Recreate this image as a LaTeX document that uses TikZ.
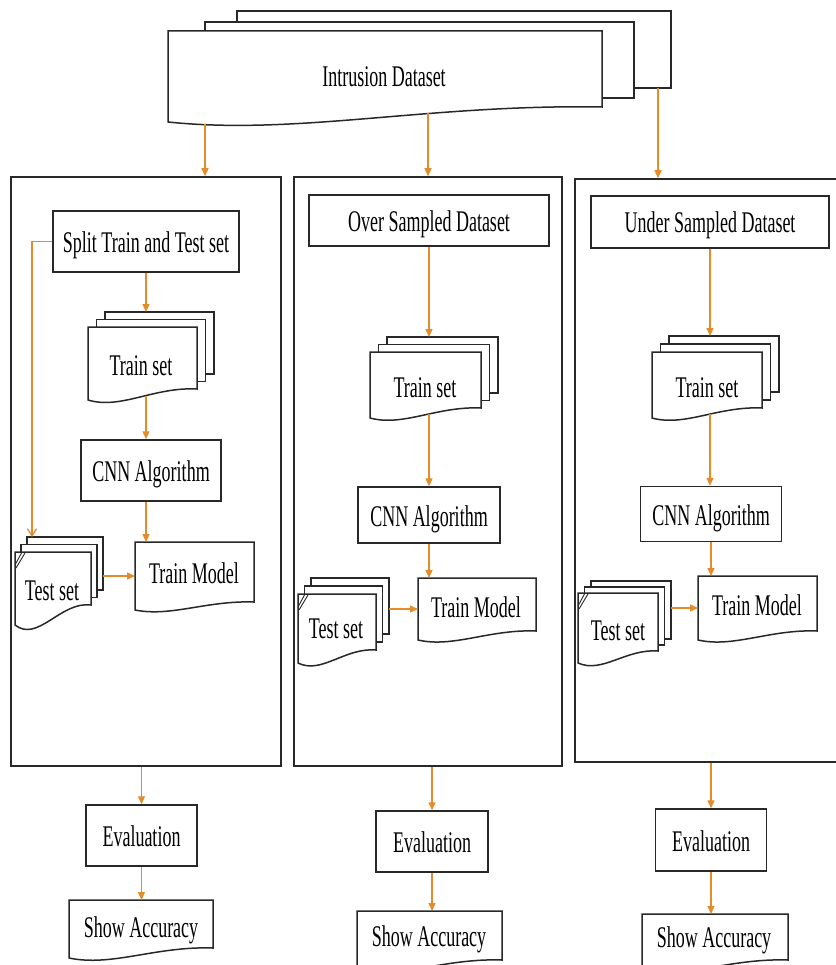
\documentclass[tikz,border=0pt]{standalone}
\usepackage{fontspec}
\setmainfont{Liberation Serif}
\usepackage{graphicx}
\usetikzlibrary{arrows.meta,fit}
\definecolor{arrc}{RGB}{228,140,44}
\definecolor{lc}{RGB}{40,40,40}
\newcommand\sx[1]{\scalebox{0.6}[1]{#1}}
% document shape: x0,y0,x1,yR,yL
\newcommand\docshape[5]{%
  \filldraw[docline] (#1,#2) -- (#3,#2) -- (#3,#4)
    .. controls ({#1+0.6*(#3-#1)},{#4-0.2*(#5-#4)}) and ({#1+0.3*(#3-#1)},{#5+0.9*(#5-#4)}) .. (#1,#5) -- cycle;}
% multi document: x0,y0,x1,yR,yL,dx,dy
\newcommand\multidoc[7]{%
  \filldraw[docline] ({#1+2*#6},{#2-2*#7}) rectangle ({#3+2*#6},{#4-2*#7});
  \filldraw[docline] ({#1+#6},{#2-#7}) rectangle ({#3+#6},{#4-#7});
  \docshape{#1}{#2}{#3}{#4}{#5}}
% corner mark on test set
\newcommand\cornermark[2]{%
  \draw[lc, line width=0.9pt] (#1,{#2+13}) -- ({#1+7},#2) ({#1+1},{#2+16}) -- ({#1+10},{#2+1});}
\begin{document}
\begin{tikzpicture}[x=1pt,y=-1pt,
  docline/.style={draw=lc, line width=1.5pt, fill=white, line join=miter},
  rbox/.style={draw=lc, line width=1.5pt, fill=white, inner sep=0pt,
    text height=22pt, text depth=0pt, font=\fontsize{30}{30}\selectfont},
  contbox/.style={draw=lc, line width=1.5pt, inner sep=0pt},
  doctext/.style={anchor=base, inner sep=0pt, font=\fontsize{30}{30}\selectfont},
  fitb/.style={inner sep=0pt, outer sep=0pt},
  oarr/.style={draw=arrc, line width=1.3pt, -{Triangle[length=8pt,width=7pt]}},
  varr/.style={draw=arrc, line width=1.3pt, -{Straight Barb[length=7pt,width=9pt]}}]
\useasboundingbox (0,0) rectangle (835,965);
\fill[white] (0,0) rectangle (835,965);

% containers
\node[contbox, minimum width=270pt, minimum height=589pt] (contL) at (146,471.5) {};
\node[contbox, minimum width=268pt, minimum height=589pt] (contM) at (428,471.5) {};
\node[contbox, minimum width=275pt, minimum height=583pt] (contR) at (712.5,470.5) {};

% intrusion dataset
\filldraw[docline] (237,11) rectangle (671,88);
\filldraw[docline] (205,22) rectangle (634,98);
\docshape{168}{31}{602}{107}{122}
\node[doctext] (ds) at (384,87) {\sx{Intrusion Dataset}};
\coordinate (dsA) at (205,124);
\coordinate (dsB) at (428,113);
\coordinate (dsC) at (658,88);

% ---------- left panel ----------
\node[rbox, minimum width=186pt, minimum height=61pt] (split) at (146,241.5) {\sx{Split Train and Test set}};
\multidoc{88}{327}{197}{389}{400}{8.5}{7.5}
\node[fitb, fit={(88,312) (214,400)}] (trLb) {};
\node[doctext] (trL) at (141,375) {\sx{Train set}};
\node[rbox, minimum width=140pt, minimum height=61pt] (cnnL) at (151,470.5) {\sx{CNN Algorithm}};
\docshape{135}{542}{254}{602}{610}
\node[fitb, fit={(135,542) (254,610)}] (tmLb) {};
\node[doctext] (tmL) at (194,583) {\sx{Train Model}};
\multidoc{15}{552}{91}{605}{625}{6}{7.5}
\cornermark{15}{552}
\node[fitb, fit={(15,537) (103,625)}] (tsLb) {};
\node[doctext] (tsL) at (52,600) {\sx{Test set}};
\coordinate (tsLin) at (32,537);
\node[rbox, minimum width=111pt, minimum height=61pt] (evalL) at (141.5,835.5) {\sx{Evaluation}};
\docshape{69}{900}{213}{948}{958}
\node[fitb, fit={(69,900) (213,958)}] (saLb) {};
\node[doctext] (saL) at (141,937) {\sx{Show Accuracy}};

% ---------- middle panel ----------
\node[rbox, minimum width=240pt, minimum height=51pt] (over) at (429,220.5) {\sx{Over Sampled Dataset}};
\multidoc{370}{352}{481}{408}{418}{8.5}{7.5}
\node[fitb, fit={(370,337) (498,418)}] (trMb) {};
\node[doctext] (trM) at (425,397) {\sx{Train set}};
\node[rbox, minimum width=142pt, minimum height=56pt] (cnnM) at (429,515) {\sx{CNN Algorithm}};
\docshape{418}{578}{536}{631}{640}
\node[fitb, fit={(418,578) (536,640)}] (tmMb) {};
\node[doctext] (tmM) at (476,617) {\sx{Train Model}};
\multidoc{298}{594}{376}{650}{663}{6.5}{8}
\cornermark{298}{594}
\node[fitb, fit={(298,578) (389,663)}] (tsMb) {};
\node[doctext] (tsM) at (336,638) {\sx{Test set}};
\node[rbox, minimum width=112pt, minimum height=61pt] (evalM) at (432,841.5) {\sx{Evaluation}};
\docshape{357}{911}{502}{960}{970}
\node[fitb, fit={(357,911) (502,970)}] (saMb) {};
\node[doctext] (saM) at (429,946) {\sx{Show Accuracy}};

% ---------- right panel ----------
\node[rbox, minimum width=238pt, minimum height=52pt] (under) at (710,222) {\sx{Under Sampled Dataset}};
\multidoc{652}{352}{762}{408}{418}{8.5}{8}
\node[fitb, fit={(652,336) (779,418)}] (trRb) {};
\node[doctext] (trR) at (707,397) {\sx{Train set}};
\node[rbox, minimum width=141pt, minimum height=55pt] (cnnR) at (711,514) {\sx{CNN Algorithm}};
\docshape{698}{576}{817}{631}{640}
\node[fitb, fit={(698,576) (817,640)}] (tmRb) {};
\node[doctext] (tmR) at (757,615) {\sx{Train Model}};
\multidoc{578}{593}{658}{651}{663}{6.5}{6}
\cornermark{578}{593}
\node[fitb, fit={(578,581) (671,663)}] (tsRb) {};
\node[doctext] (tsR) at (618,640) {\sx{Test set}};
\node[rbox, minimum width=111pt, minimum height=62pt] (evalR) at (711,840) {\sx{Evaluation}};
\docshape{642}{914}{788}{960}{970}
\node[fitb, fit={(642,914) (788,970)}] (saRb) {};
\node[doctext] (saR) at (714,947) {\sx{Show Accuracy}};

% ---------- connectors ----------
\draw[oarr] (dsA) -- (dsA |- contL.north);
\draw[oarr] (dsB) -- (dsB |- contM.north);
\draw[oarr] (dsC) -- (dsC |- contR.north);

\draw[oarr] (split.south) -- (split.south |- trLb.north);
\draw[oarr] ([yshift=4pt]split.south |- trLb.south) -- (split.south |- cnnL.north);
\draw[oarr] (split.south |- cnnL.south) -- (split.south |- tmLb.north);
\draw[oarr] (tsLb.east |- tmLb.west) -- (tmLb.west);
\draw[varr] (split.west) -| (tsLin);
\draw[oarr] (evalL.north |- contL.south) -- (evalL.north);
\draw[oarr] (evalL.south) -- (evalL.south |- saLb.north);

\draw[oarr] (over.south) -- (over.south |- trMb.north);
\draw[oarr] ([yshift=4pt]over.south |- trMb.south) -- (over.south |- cnnM.north);
\draw[oarr] (cnnM.south) -- (cnnM.south |- tmMb.north);
\draw[oarr] (tsMb.east |- tmMb.west) -- (tmMb.west);
\draw[oarr] (evalM.north |- contM.south) -- (evalM.north);
\draw[oarr] (evalM.south) -- (evalM.south |- saMb.north);

\draw[oarr] (under.south) -- (under.south |- trRb.north);
\draw[oarr] ([yshift=4pt]under.south |- trRb.south) -- (under.south |- cnnR.north);
\draw[oarr] (cnnR.south) -- (cnnR.south |- tmRb.north);
\draw[oarr] (tsRb.east |- tmRb.west) -- (tmRb.west);
\draw[oarr] (evalR.north |- contR.south) -- (evalR.north);
\draw[oarr] (evalR.south) -- (evalR.south |- saRb.north);
\end{tikzpicture}
\end{document}
